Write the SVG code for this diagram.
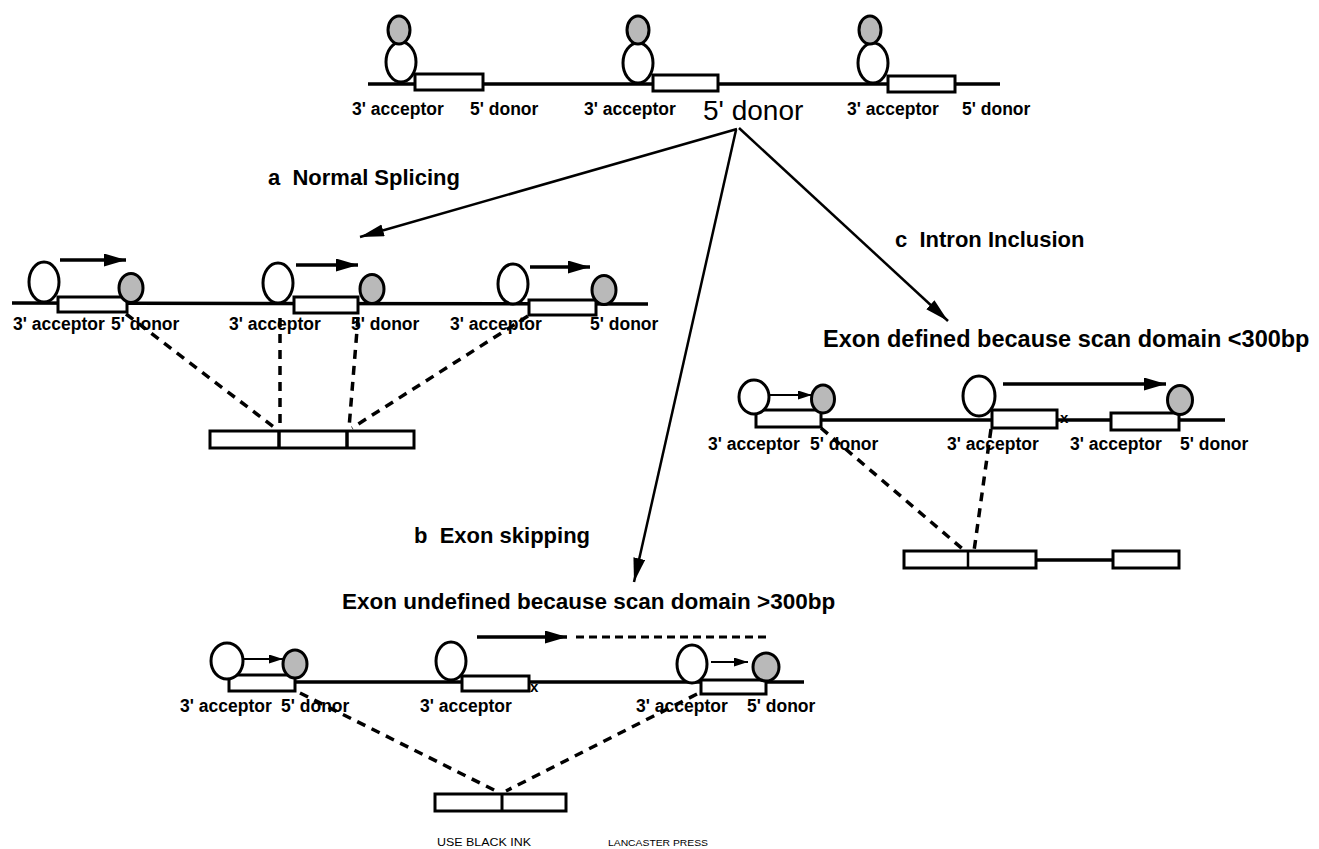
<svg xmlns="http://www.w3.org/2000/svg" width="1319" height="849" viewBox="0 0 1319 849">
<defs>
<style>
.dna{stroke:#000;stroke-width:3.5;fill:none}
.exon{fill:#fff;stroke:#000;stroke-width:3}
.u1{fill:#fff;stroke:#000;stroke-width:3}
.u2{fill:#b9b9b9;stroke:#000;stroke-width:3}
.lbl{font-family:"Liberation Sans",Arial,sans-serif;font-weight:bold;font-size:17.5px;fill:#000}
.hd{font-family:"Liberation Sans",Arial,sans-serif;font-weight:bold;font-size:22px;fill:#000;white-space:pre}
.big{font-family:"Liberation Sans",Arial,sans-serif;font-size:28px;fill:#000}
.note{font-family:"Liberation Sans",Arial,sans-serif;font-size:11px;fill:#000}
.conn{stroke:#000;stroke-width:2.5;fill:none}
.dash{stroke:#000;stroke-width:3.5;fill:none;stroke-dasharray:9 7}
.scan{stroke:#000;stroke-width:3.5;fill:none}
.scans{stroke:#000;stroke-width:2;fill:none}
</style>
<marker id="ah" markerUnits="userSpaceOnUse" markerWidth="26" markerHeight="14" refX="24" refY="6" orient="auto">
<path d="M0,0 L24,6 L0,12 z" fill="#000"/>
</marker>
<marker id="sh" markerUnits="userSpaceOnUse" markerWidth="24" markerHeight="14" refX="22" refY="6.5" orient="auto">
<path d="M0,0 L22,6.5 L0,13 z" fill="#000"/>
</marker>
<marker id="ss" markerUnits="userSpaceOnUse" markerWidth="16" markerHeight="10" refX="14" refY="4.5" orient="auto">
<path d="M0,0 L14,4.5 L0,9 z" fill="#000"/>
</marker>
</defs>
<rect width="1319" height="849" fill="#fff"/>

<!-- TOP pre-mRNA -->
<g id="top">
<line class="dna" x1="368" y1="84" x2="1000" y2="84"/>
<rect class="exon" x="415" y="74" width="68" height="16"/>
<rect class="exon" x="653" y="75" width="65" height="16"/>
<rect class="exon" x="888" y="76" width="67" height="16"/>
<ellipse class="u1" cx="401" cy="62" rx="15" ry="20"/>
<ellipse class="u2" cx="399" cy="30" rx="11" ry="14"/>
<ellipse class="u1" cx="638" cy="63" rx="15" ry="20"/>
<ellipse class="u2" cx="638" cy="30" rx="11" ry="14"/>
<ellipse class="u1" cx="873" cy="63" rx="15" ry="20"/>
<ellipse class="u2" cx="870" cy="30" rx="11" ry="14"/>
<text class="lbl" x="352" y="115">3' acceptor</text>
<text class="lbl" x="470" y="115">5' donor</text>
<text class="lbl" x="584" y="115">3' acceptor</text>
<text class="big" x="703" y="120">5' donor</text>
<text class="lbl" x="847" y="115">3' acceptor</text>
<text class="lbl" x="962" y="115">5' donor</text>
</g>

<!-- connectors -->
<g id="connectors">
<line class="conn" x1="737" y1="129" x2="360" y2="237" marker-end="url(#ah)"/>
<line class="conn" x1="736" y1="130" x2="634" y2="582" marker-end="url(#ah)"/>
<line class="conn" x1="739" y1="128" x2="948" y2="321" marker-end="url(#ah)"/>
<!-- a dashed -->
<line class="dash" x1="126" y1="314" x2="275" y2="428"/>
<line class="dash" x1="280" y1="318" x2="280" y2="428"/>
<line class="dash" x1="358" y1="318" x2="349" y2="428"/>
<line class="dash" x1="528" y1="316" x2="352" y2="428"/>
<!-- c dashed -->
<line class="dash" x1="821" y1="428" x2="965" y2="551"/>
<line class="dash" x1="991" y1="429" x2="974" y2="551"/>
<!-- b dashed -->
<line class="dash" x1="300" y1="693" x2="498" y2="792"/>
<line class="dash" x1="697" y1="694" x2="506" y2="791"/>
</g>

<!-- a Normal splicing -->
<g id="label-a"><text class="hd" x="268" y="185">a  Normal Splicing</text></g>
<g id="row-a">
<line class="dna" x1="12" y1="303" x2="648" y2="304"/>
<rect class="exon" x="58" y="297" width="69" height="15"/>
<rect class="exon" x="294" y="297" width="64" height="16"/>
<rect class="exon" x="529" y="300" width="67" height="15"/>
<ellipse class="u1" cx="44" cy="282" rx="15" ry="20"/>
<ellipse class="u2" cx="131" cy="288" rx="12" ry="14.5"/>
<ellipse class="u1" cx="278" cy="283" rx="15" ry="20"/>
<ellipse class="u2" cx="372" cy="289" rx="12" ry="14.5"/>
<ellipse class="u1" cx="513" cy="284" rx="15" ry="20"/>
<ellipse class="u2" cx="604" cy="290" rx="12" ry="14.5"/>
<line class="scan" x1="60" y1="260" x2="126" y2="260" marker-end="url(#sh)"/>
<line class="scan" x1="296" y1="265" x2="358" y2="265" marker-end="url(#sh)"/>
<line class="scan" x1="530" y1="267" x2="590" y2="267" marker-end="url(#sh)"/>
<text class="lbl" x="13" y="330">3' acceptor</text>
<text class="lbl" x="111" y="330">5' donor</text>
<text class="lbl" x="229" y="330">3' acceptor</text>
<text class="lbl" x="351" y="330">5' donor</text>
<text class="lbl" x="450" y="330">3' acceptor</text>
<text class="lbl" x="590" y="330">5' donor</text>
</g>
<g id="mrna-a">
<rect class="exon" x="210" y="431" width="204" height="17"/>
<line stroke="#000" stroke-width="3.5" x1="279" y1="431" x2="279" y2="448"/>
<line stroke="#000" stroke-width="3.5" x1="347" y1="431" x2="347" y2="448"/>
</g>

<!-- c Intron inclusion -->
<g id="label-c">
<text class="hd" x="895" y="247">c  Intron Inclusion</text>
<text class="hd" x="823" y="347" style="font-size:23.5px">Exon defined because scan domain &lt;300bp</text>
</g>
<g id="row-c">
<line class="dna" x1="821" y1="420" x2="1225" y2="420"/>
<rect class="exon" x="756" y="410" width="65" height="17"/>
<rect class="exon" x="992" y="410" width="65" height="18"/>
<rect class="exon" x="1111" y="413" width="68" height="17"/>
<ellipse class="u1" cx="754" cy="397" rx="15" ry="17"/>
<ellipse class="u2" cx="823" cy="399" rx="11.5" ry="14"/>
<ellipse class="u1" cx="979" cy="396" rx="16" ry="20"/>
<ellipse class="u2" cx="1180" cy="400" rx="12.5" ry="14.5"/>
<line class="scans" x1="770" y1="395" x2="812" y2="395" marker-end="url(#ss)"/>
<line class="scan" x1="1003" y1="384" x2="1166" y2="384" marker-end="url(#sh)"/>
<text class="lbl" x="1060" y="423" style="font-size:15px">x</text>
<text class="lbl" x="708" y="450">3' acceptor</text>
<text class="lbl" x="810" y="450">5' donor</text>
<text class="lbl" x="947" y="450">3' acceptor</text>
<text class="lbl" x="1070" y="450">3' acceptor</text>
<text class="lbl" x="1180" y="450">5' donor</text>
</g>
<g id="mrna-c">
<rect class="exon" x="904" y="551" width="132" height="17"/>
<line stroke="#000" stroke-width="2.5" x1="968" y1="551" x2="968" y2="568"/>
<line stroke="#000" stroke-width="3.5" x1="1036" y1="560" x2="1113" y2="560"/>
<rect class="exon" x="1113" y="551" width="66" height="17"/>
</g>

<!-- b Exon skipping -->
<g id="label-b">
<text class="hd" x="414" y="543">b  Exon skipping</text>
<text class="hd" x="342" y="609" style="font-size:22.5px">Exon undefined because scan domain &gt;300bp</text>
</g>
<g id="row-b">
<line class="dna" x1="295" y1="682" x2="804" y2="682"/>
<rect class="exon" x="229" y="675" width="66" height="16"/>
<rect class="exon" x="462" y="676" width="67" height="15"/>
<rect class="exon" x="701" y="680" width="65" height="14"/>
<ellipse class="u1" cx="227" cy="661" rx="16" ry="18"/>
<ellipse class="u2" cx="295" cy="664" rx="12" ry="14"/>
<ellipse class="u1" cx="451" cy="661" rx="15" ry="19"/>
<ellipse class="u1" cx="692" cy="664" rx="15" ry="19"/>
<ellipse class="u2" cx="766" cy="667" rx="13" ry="14"/>
<line class="scans" x1="244" y1="659" x2="283" y2="659" marker-end="url(#ss)"/>
<line class="scans" x1="711" y1="662" x2="748" y2="662" marker-end="url(#ss)"/>
<line class="scan" x1="477" y1="637" x2="567" y2="637" marker-end="url(#sh)"/>
<line stroke="#000" stroke-width="3" stroke-dasharray="8 5" x1="576" y1="637" x2="768" y2="637"/>
<text class="lbl" x="530" y="692" style="font-size:15px">x</text>
<text class="lbl" x="180" y="712">3' acceptor</text>
<text class="lbl" x="281" y="712">5' donor</text>
<text class="lbl" x="420" y="712">3' acceptor</text>
<text class="lbl" x="636" y="712">3' acceptor</text>
<text class="lbl" x="747" y="712">5' donor</text>
</g>
<g id="mrna-b">
<rect class="exon" x="435" y="794" width="131" height="17"/>
<line stroke="#000" stroke-width="3" x1="502" y1="794" x2="502" y2="811"/>
</g>
<g id="footer">
<text class="note" x="437" y="846" textLength="94" lengthAdjust="spacingAndGlyphs">USE BLACK INK</text>
<text class="note" x="608" y="846" textLength="100" lengthAdjust="spacingAndGlyphs" style="font-size:9.5px">LANCASTER PRESS</text>
</g>
</svg>
